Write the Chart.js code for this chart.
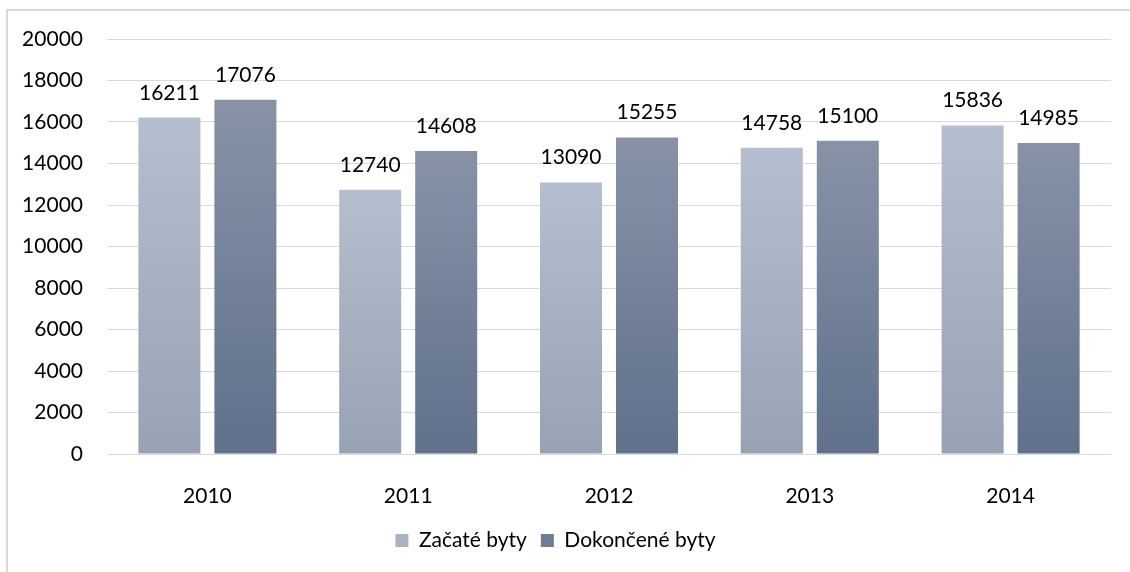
<!DOCTYPE html>
<html>
<head>
<meta charset="utf-8">
<script src="https://cdn.jsdelivr.net/npm/chart.js@4.4.1/dist/chart.umd.min.js"></script>
<style>
  html, body { margin: 0; padding: 0; background: #fff; }
  #wrap { position: absolute; left: 0; top: 0; width: 1130px; height: 572px; }
</style>
</head>
<body>
<div id="wrap"><canvas id="myChart"></canvas></div>
<script>
// data
const years = ['2010', '2011', '2012', '2013', '2014'];
const zacate = [16211, 12740, 13090, 14758, 15836];
const dokoncene = [17076, 14608, 15255, 15100, 14985];
const seriesNames = ['Začaté byty', 'Dokončené byty'];
const yMin = 0, yMax = 20000, yStep = 2000;

const FONT = 'Lato, "Open Sans", sans-serif';
const FSIZE = 21;

// gradient per bar, lighter at top
const barGradient = (top, bottom, flat) => (c) => {
    const chart = c.chart;
    if (!chart.chartArea || c.raw === undefined) return flat;
    const y = chart.scales.y;
    const g = chart.ctx.createLinearGradient(0, y.getPixelForValue(c.raw), 0, y.getPixelForValue(0));
    g.addColorStop(0, top);
    g.addColorStop(1, bottom);
    return g;
};

const frame = {
    id: 'frame',
    beforeDraw(chart) {
        const ctx = chart.ctx;
        ctx.save();
        ctx.strokeStyle = '#d9d9d9';
        ctx.lineWidth = 2;
        ctx.beginPath();
        ctx.moveTo(7, 572);
        ctx.lineTo(7, 10);
        ctx.lineTo(1130, 10);
        ctx.stroke();
        ctx.restore();
    }
};

const valueLabels = {
    id: 'valueLabels',
    afterDatasetsDraw(chart) {
        const ctx = chart.ctx;
        ctx.save();
        ctx.font = FSIZE + 'px ' + FONT;
        ctx.fillStyle = '#000';
        ctx.textAlign = 'center';
        ctx.textBaseline = 'alphabetic';
        chart.data.datasets.forEach((ds, i) => {
            chart.getDatasetMeta(i).data.forEach((bar, j) => {
                ctx.fillText(String(ds.data[j]), bar.x, bar.y - 18);
            });
        });
        ctx.restore();
    }
};

const ctx1 = document.getElementById('myChart');
const myChart = new Chart(ctx1, {
    type: 'bar',
    data: {
        labels: years,
        datasets: [{
            label: seriesNames[0],
            data: zacate,
            backgroundColor: barGradient('#b5bece', '#97a2b4', '#a8b1c2'),
            categoryPercentage: 0.757,
            barPercentage: 0.816
        }, {
            label: seriesNames[1],
            data: dokoncene,
            backgroundColor: barGradient('#8792a6', '#60718c', '#74829a'),
            categoryPercentage: 0.757,
            barPercentage: 0.816
        }]
    },
    options: {
        responsive: true,
        maintainAspectRatio: false,
        animation: false,
        layout: { padding: { top: 39, right: 19, left: 0, bottom: 11 } },
        plugins: {
            tooltip: { enabled: false },
            legend: {
                position: 'bottom',
                labels: {
                    color: '#000',
                    font: { family: FONT, size: FSIZE },
                    boxWidth: 13,
                    boxHeight: 13,
                    padding: 14,
                    generateLabels: () => [
                        { text: seriesNames[0], fillStyle: '#a9b2c3', strokeStyle: '#a9b2c3', lineWidth: 0, datasetIndex: 0 },
                        { text: seriesNames[1], fillStyle: '#6f7e96', strokeStyle: '#6f7e96', lineWidth: 0, datasetIndex: 1 }
                    ]
                }
            }
        },
        scales: {
            x: {
                grid: { display: false },
                border: { display: false },
                ticks: { color: '#000', font: { family: FONT, size: FSIZE }, padding: 22 },
                afterFit: (s) => { s.height = 62; }
            },
            y: {
                min: yMin,
                max: yMax,
                border: { display: false },
                grid: { color: '#d9d9d9', lineWidth: 1, drawTicks: false },
                ticks: {
                    stepSize: yStep, color: '#000', font: { family: FONT, size: FSIZE }, padding: 24,
                    callback: (v) => String(v)
                },
                afterFit: (s) => { s.width = 107; }
            }
        }
    },
    plugins: [frame, valueLabels]
});
</script>
</body>
</html>
